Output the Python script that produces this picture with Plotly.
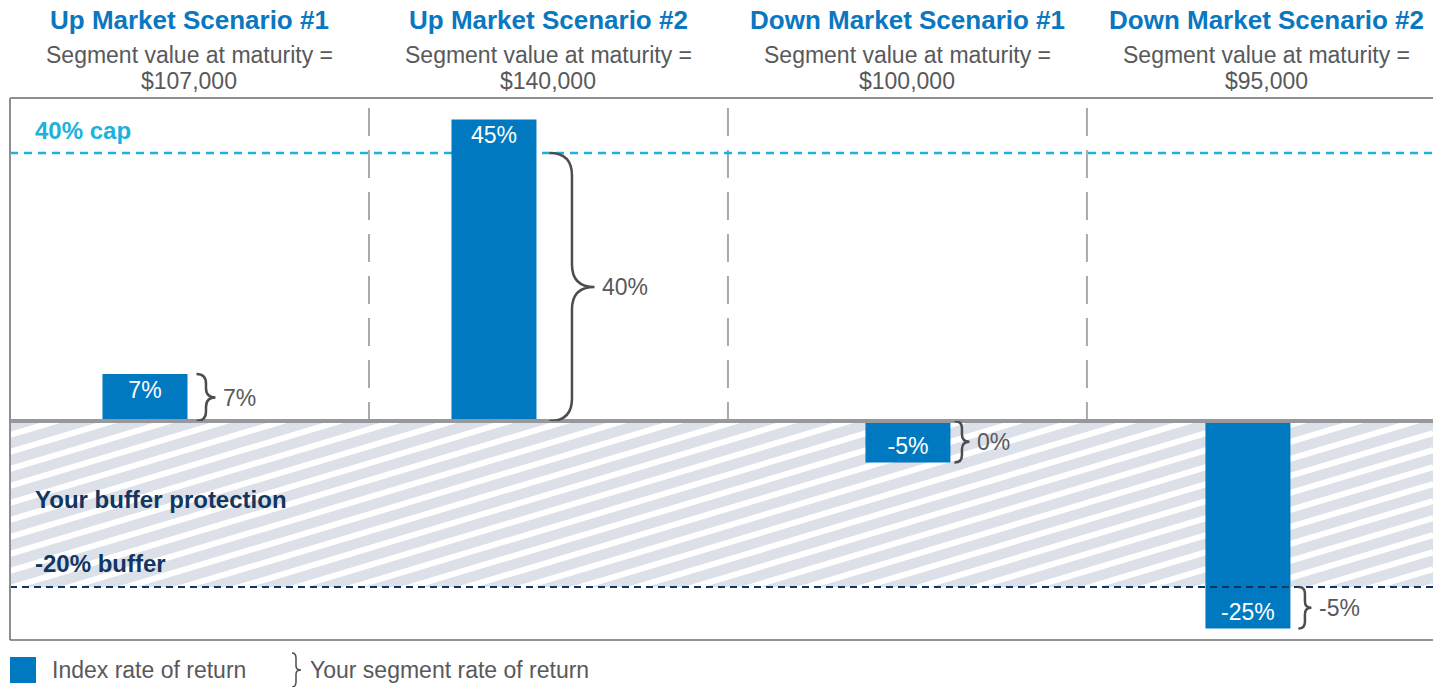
import plotly.graph_objects as go
from plotly.subplots import make_subplots

# ---- data ----
scenarios = ["Up Market Scenario #1", "Up Market Scenario #2",
             "Down Market Scenario #1", "Down Market Scenario #2"]
segment_values = ["$107,000", "$140,000", "$100,000", "$95,000"]
index_returns = [7, 45, -5, -25]        # blue bars
segment_returns = [7, 40, 0, -5]        # brace labels
brace_from = [0, 0, 0, -20]             # span covered by each brace
brace_to = [7, 40, -5, -25]
cap_level = 40
buffer_level = -20

# ---- look ----
BLUE = "#0079c1"
TITLE_BLUE = "#0a77c1"
CYAN = "#1cb2dd"
NAVY = "#12365f"
GRAY_TXT = "#58595b"
BRACE_COL = "#4d4d4f"
BAND = "#dce0e9"
REG = "Liberation Sans, Arial, sans-serif"

W, H = 1433, 687
ML, MT, MB = 10, 98, 47
PLOT_H = H - MT - MB
LOW_H = 219
X_RANGE = [-0.5, 3.464]
UNIT_PX = (W - ML) / (X_RANGE[1] - X_RANGE[0])
UP_RANGE = [0, 48.2]
LOW_RANGE = [-26.4, 0]
K_UP = (PLOT_H - LOW_H) / UP_RANGE[1]
K_LOW = LOW_H / -LOW_RANGE[0]

BAR_W = 85 / UNIT_PX
BAR_SHIFT_PX = [-87, -97, -42, -61]     # left edge of bar vs column centre
BRACE_GAP_PX = [9, 13, 4, 8]
BRACE_W_PX = [19, 45, 15, 13]


def py(ypx):
    return (H - MB - ypx) / PLOT_H


def pxx(xpx):
    return (xpx - ML) / (W - ML)


def brace_path(y_a, y_b, w, k, gap):
    top, bot = max(y_a, y_b), min(y_a, y_b)
    mid = (top + bot) / 2
    r = min(w * 0.5, (top - bot) * k / 4) / k
    x0, xb, xt = gap, gap + w * 0.5, gap + w
    return (f"M{x0},{top} Q{xb},{top} {xb},{top - r} L{xb},{mid + r} "
            f"Q{xb},{mid} {xt},{mid} Q{xb},{mid} {xb},{mid - r} "
            f"L{xb},{bot + r} Q{xb},{bot} {x0},{bot}")


fig = make_subplots(rows=2, cols=1, shared_xaxes=True, vertical_spacing=0,
                    row_heights=[PLOT_H - LOW_H, LOW_H])

offsets = [s / UNIT_PX for s in BAR_SHIFT_PX]
for row, keep in ((1, lambda v: v > 0), (2, lambda v: v < 0)):
    idx = [i for i, v in enumerate(index_returns) if keep(v)]
    fig.add_trace(go.Bar(
        x=idx, y=[index_returns[i] for i in idx],
        width=BAR_W, offset=[offsets[i] for i in idx],
        marker=dict(color=BLUE, line=dict(width=0)),
        text=[f"{index_returns[i]}%" for i in idx],
        textposition="inside", insidetextanchor="end", constraintext="none",
        textfont=dict(color="white", size=23, family=REG),
        hoverinfo="skip", showlegend=False,
    ), row=row, col=1)

shapes = []
# buffer band with white diagonal stripes
shapes.append(dict(type="rect", xref="x2", yref="y2", x0=X_RANGE[0], x1=X_RANGE[1],
                   y0=buffer_level, y1=0, fillcolor=BAND, line=dict(width=0), layer="below"))
slope = 0.3 * UNIT_PX / K_LOW
span = X_RANGE[1] - X_RANGE[0]
c = buffer_level - slope * span - 4
while c < 4:
    shapes.append(dict(type="line", xref="x2", yref="y2",
                       x0=X_RANGE[0], y0=c, x1=X_RANGE[1], y1=c + slope * span,
                       line=dict(color="white", width=6), layer="below"))
    c += 17 / K_LOW
shapes.append(dict(type="rect", xref="x2", yref="y2", x0=X_RANGE[0], x1=X_RANGE[1],
                   y0=LOW_RANGE[0], y1=buffer_level, fillcolor="white",
                   line=dict(width=0), layer="below"))
# column separators
for b in (0.5, 1.5, 2.5):
    shapes.append(dict(type="line", xref="x", yref="paper", x0=b, x1=b, y0=0, y1=1,
                       line=dict(color="#a7a9ac", width=2, dash="28px,14px"), layer="below"))
# cap line (under bars)
shapes.append(dict(type="line", xref="paper", yref="y", x0=0, x1=1, y0=cap_level, y1=cap_level,
                   line=dict(color=CYAN, width=2.5, dash="8px,6px"), layer="below"))
# zero line
zero_y = LOW_H / PLOT_H
shapes.append(dict(type="line", xref="paper", yref="paper", x0=0, x1=1, y0=zero_y, y1=zero_y,
                   line=dict(color="#97989b", width=4)))
# buffer line (over bars)
shapes.append(dict(type="line", xref="paper", yref="y2", x0=0, x1=1,
                   y0=buffer_level, y1=buffer_level,
                   line=dict(color=NAVY, width=2, dash="7px,5px")))
# frame: top, left, bottom
shapes.append(dict(type="line", xref="paper", yref="paper", x0=0, x1=1, y0=1, y1=1,
                   line=dict(color="#8e8f92", width=2)))
shapes.append(dict(type="line", xref="paper", yref="paper", x0=0, x1=0, y0=0, y1=1,
                   line=dict(color="#8e8f92", width=2)))
shapes.append(dict(type="line", xref="paper", yref="paper", x0=0, x1=1, y0=0, y1=0,
                   line=dict(color="#6d6e71", width=1.5)))

annotations = []
# braces + segment labels
for i in range(4):
    lower = min(brace_from[i], brace_to[i]) < 0
    yref, xref, k = ("y2", "x2", K_LOW) if lower else ("y", "x", K_UP)
    right = i + offsets[i] + BAR_W
    shapes.append(dict(type="path", xref=xref, yref=yref, xsizemode="pixel", xanchor=right,
                       path=brace_path(brace_from[i], brace_to[i], BRACE_W_PX[i], k, BRACE_GAP_PX[i]),
                       line=dict(color=BRACE_COL, width=2.5)))
    annotations.append(dict(xref=xref, yref=yref, x=right,
                            xshift=BRACE_GAP_PX[i] + BRACE_W_PX[i] + 6,
                            y=(brace_from[i] + brace_to[i]) / 2, xanchor="left", yanchor="middle",
                            text=f"{segment_returns[i]}%", showarrow=False,
                            font=dict(size=23, color=GRAY_TXT, family=REG)))

# headers
for i, (name, val) in enumerate(zip(scenarios, segment_values)):
    annotations.append(dict(xref="x", yref="paper", x=i, y=py(20), text=f"<b>{name}</b>",
                            showarrow=False, xanchor="center", yanchor="middle",
                            font=dict(size=26, color=TITLE_BLUE, family=REG)))
    annotations.append(dict(xref="x", yref="paper", x=i, y=py(55),
                            text="Segment value at maturity =", showarrow=False,
                            xanchor="center", yanchor="middle",
                            font=dict(size=23, color=GRAY_TXT, family=REG)))
    annotations.append(dict(xref="x", yref="paper", x=i, y=py(81), text=val,
                            showarrow=False, xanchor="center", yanchor="middle",
                            font=dict(size=23, color=GRAY_TXT, family=REG)))

# level labels
for txt, ypx, col in (("<b>40% cap</b>", 131, CYAN),
                      ("<b>Your buffer protection</b>", 500, NAVY),
                      ("<b>-20% buffer</b>", 563, NAVY)):
    annotations.append(dict(xref="paper", yref="paper", x=pxx(33), y=py(ypx), text=txt,
                            showarrow=False, xanchor="left", yanchor="middle",
                            font=dict(size=24, color=col, family=REG)))

# legend
shapes.append(dict(type="rect", xref="paper", yref="paper", x0=pxx(10), x1=pxx(36),
                   y0=py(683), y1=py(657), fillcolor=BLUE, line=dict(width=0)))
annotations.append(dict(xref="paper", yref="paper", x=pxx(50), y=py(670),
                        text="Index rate of return", showarrow=False, xanchor="left",
                        yanchor="middle", font=dict(size=23, color=GRAY_TXT, family=REG)))
shapes.append(dict(type="path", xref="paper", yref="paper", xsizemode="pixel", ysizemode="pixel",
                   xanchor=pxx(292), yanchor=py(670),
                   path="M0,17 Q4,17 4,12 L4,4 Q4,0 9,0 Q4,0 4,-4 L4,-12 Q4,-17 0,-17",
                   line=dict(color=BRACE_COL, width=1.5)))
annotations.append(dict(xref="paper", yref="paper", x=pxx(308), y=py(670),
                        text="Your segment rate of return", showarrow=False, xanchor="left",
                        yanchor="middle", font=dict(size=23, color=GRAY_TXT, family=REG)))

fig.update_layout(
    width=W, height=H, margin=dict(l=ML, r=0, t=MT, b=MB),
    paper_bgcolor="white", plot_bgcolor="white",
    shapes=shapes, annotations=annotations, showlegend=False,
    font=dict(family=REG),
)
fig.update_xaxes(range=X_RANGE, visible=False, showgrid=False, zeroline=False)
fig.update_yaxes(visible=False, showgrid=False, zeroline=False)
fig.update_yaxes(range=UP_RANGE, row=1, col=1)
fig.update_yaxes(range=LOW_RANGE, row=2, col=1)

fig.write_html("out.html", config={"displayModeBar": False},
               post_script="document.body.style.margin='0px';")
